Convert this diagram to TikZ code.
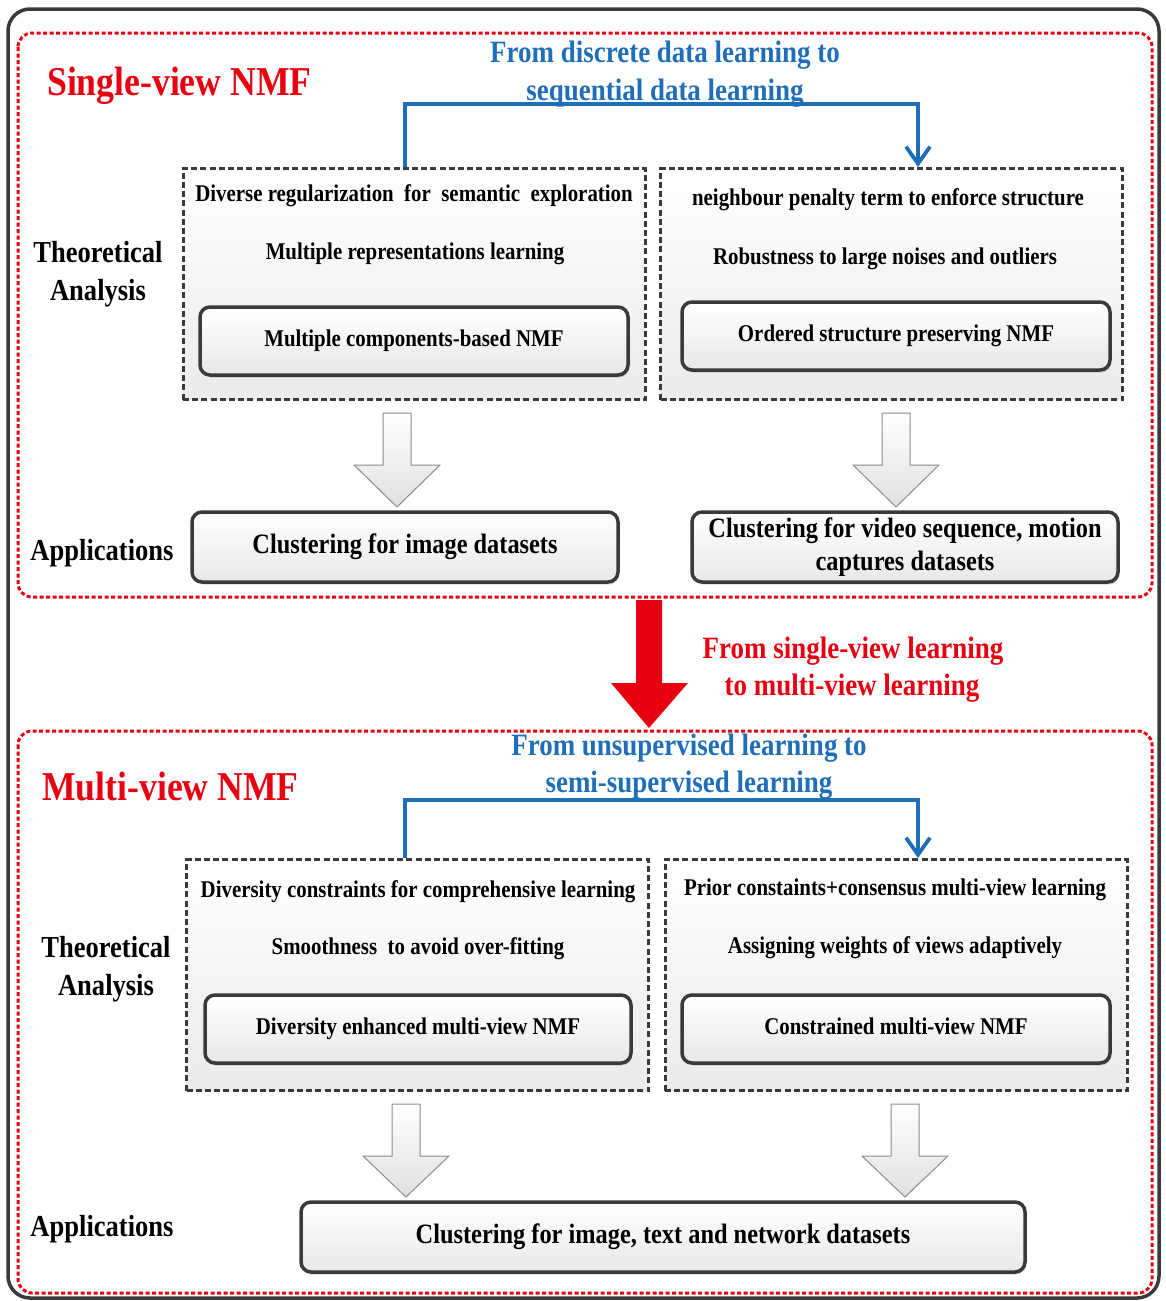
\documentclass[tikz,border=0pt]{standalone}
\usepackage{fontspec}
\setmainfont[FakeStretch=0.87]{Liberation Serif}
\usetikzlibrary{arrows.meta,shadows,calc}
\definecolor{nblue}{RGB}{30,110,185}
\definecolor{nred}{RGB}{232,0,16}
\definecolor{dgray}{RGB}{58,58,58}
\newcommand\blockarr[4]{%
  \path[harrow] (#1-14,#2) -- (#1+14,#2) -- (#1+14,#3) -- (#1+43,#3) -- (#1,#4) -- (#1-43,#3) -- (#1-14,#3) -- cycle;}
\begin{document}
\begin{tikzpicture}[x=1pt,y=-1pt,
  every node/.style={inner sep=0pt},
  body/.style={font=\fontsize{24}{28}\selectfont\bfseries, anchor=base},
  lbl/.style={font=\fontsize{30.5}{36}\selectfont\bfseries, anchor=base},
  ttl/.style={font=\fontsize{41}{48}\selectfont\bfseries, text=nred, anchor=base west},
  bluet/.style={font=\fontsize{31}{37}\selectfont\bfseries, text=nblue, anchor=base},
  redt/.style={font=\fontsize{31}{37}\selectfont\bfseries, text=nred, anchor=base},
  dbox/.style={draw=dgray, line width=3pt, dash pattern=on 6pt off 3.2pt, top color=white, bottom color=black!8, minimum width=462pt, minimum height=231pt},
  roundbox/.style={draw=dgray, line width=3.5pt, rounded corners=10pt, top color=white, bottom color=black!9,
     drop shadow={shadow xshift=1pt, shadow yshift=-2.5pt, opacity=0.35}},
  ibox/.style={roundbox, minimum width=428pt, minimum height=68pt, font=\fontsize{24}{28}\selectfont\bfseries, text height=16pt, text depth=5pt},
  abox/.style={roundbox, minimum width=426pt, minimum height=70pt, font=\fontsize{28}{33}\selectfont\bfseries, align=center},
  reddash/.style={draw=nred, line width=3pt, dash pattern=on 4pt off 2.5pt, rounded corners=14pt},
  harrow/.style={draw=black!45, line width=1pt, top color=white, bottom color=black!12},
  bluearr/.style={draw=nblue, line width=3.8pt, -{Straight Barb[length=17pt,width=24pt]}}
]
\useasboundingbox (0,0) rectangle (1165,1301);
% outer frame
\draw[dgray, line width=3.5pt, rounded corners=22pt] (8,9) rectangle (1159,1298);
% red dashed sections
\draw[reddash] (18,33) rectangle (1152,597);
\draw[reddash] (18,731) rectangle (1152,1293);

% ---------- Single-view ----------
\node[ttl] (title1) at (47,95) {Single-view NMF};
\node[bluet] (bl1a) at (665,62) {From discrete data learning to};
\node[bluet] (bl1b) at (665,100) {sequential data learning};

\node[dbox] (L1) at (414,284) {};
\node[dbox] (R1) at (891.5,284) {};
\node[body] (L1a) at (414,201) {Diverse regularization\ \ for\ \ semantic\ \ exploration};
\node[body] (L1b) at (415,259) {Multiple representations learning};
\node[ibox] (L1c) at (414,341) {Multiple components-based NMF};
\node[body] (R1a) at (888,205) {neighbour penalty term to enforce structure};
\node[body] (R1b) at (885,264) {Robustness to large noises and outliers};
\node[ibox] (R1c) at (896,336) {Ordered structure preserving NMF};

\draw[bluearr] ([xshift=-9pt]L1.north) -- ++(0,-63) -| ([xshift=26.5pt]R1.north);

\node[lbl] (th1a) at (98,262) {Theoretical};
\node[lbl] (th1b) at (98,300) {Analysis};

\blockarr{397}{413}{465}{507}
\blockarr{896}{413}{465}{507}

\node[abox] (A1L) at (405,547) {Clustering for image datasets};
\node[abox] (A1R) at (905,547) {Clustering for video sequence, motion\\captures datasets};
\node[lbl] (app1) at (102,560) {Applications};

% ---------- transition ----------
\fill[nred] (636,600) -- (662,600) -- (662,683) -- (688,683) -- (649,728) -- (611,683) -- (636,683) -- cycle;
\node[redt] (rt1) at (853,658) {From single-view learning};
\node[redt] (rt2) at (852,695) {to multi-view learning};

% ---------- Multi-view ----------
\node[ttl] (title2) at (42,800) {Multi-view NMF};
\node[bluet] (bl2a) at (689,755) {From unsupervised learning to};
\node[bluet] (bl2b) at (689,792) {semi-supervised learning};

\node[dbox] (L2) at (417.5,975) {};
\node[dbox] (R2) at (896,975) {};
\node[body] (L2a) at (418,897) {Diversity constraints for comprehensive learning};
\node[body] (L2b) at (418,954) {Smoothness\ \ to avoid over-fitting};
\node[ibox, minimum width=426pt] (L2c) at (418,1029) {Diversity enhanced multi-view NMF};
\node[body] (R2a) at (895,895) {Prior constaints+consensus multi-view learning};
\node[body] (R2b) at (895,953) {Assigning weights of views adaptively};
\node[ibox] (R2c) at (896,1029) {Constrained multi-view NMF};

\draw[bluearr] ([xshift=-12.5pt]L2.north) -- ++(0,-58) -| ([xshift=22pt]R2.north);

\node[lbl] (th2a) at (106,957) {Theoretical};
\node[lbl] (th2b) at (106,995) {Analysis};

\blockarr{406}{1104}{1156}{1197}
\blockarr{905}{1104}{1156}{1197}

\node[abox, minimum width=724pt] (A2) at (663,1237) {Clustering for image, text and network datasets};
\node[lbl] (app2) at (102,1236) {Applications};
\end{tikzpicture}
\end{document}
